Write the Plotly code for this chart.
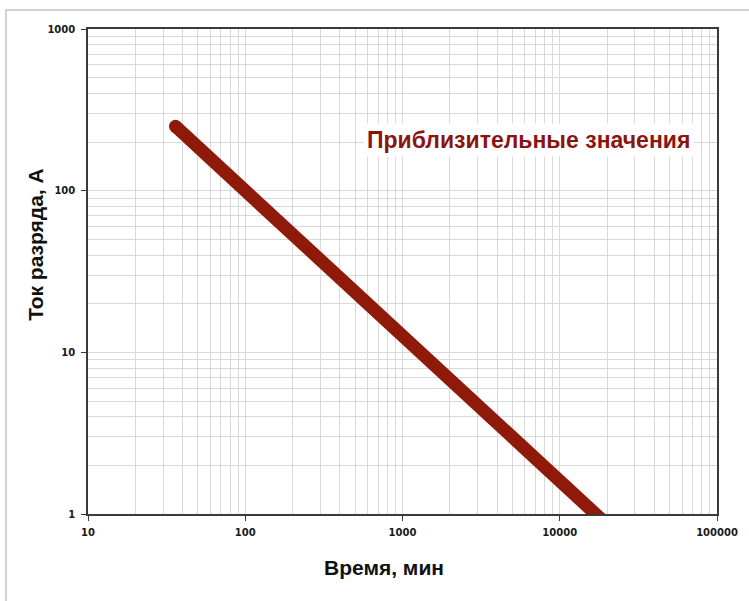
import plotly.graph_objects as go

# Data (log-log)
time_min = [36, 100, 1000, 10000, 20000]
current_a = [250, 100, 12.6, 1.6, 0.86]

x_major = [10, 100, 1000, 10000, 100000]
x_labels = ["10", "100", "1000", "10000", "100000"]
y_major = [1, 10, 100, 1000]
y_labels = ["1", "10", "100", "1000"]

x_minor = [m * 10 ** e for e in range(1, 5) for m in range(2, 10)]
y_minor = [m * 10 ** e for e in range(0, 3) for m in range(2, 10)]

line_color = "#901a0a"
grid_color = "#d9d9d9"
axis_color = "#3a3a3a"
tick_font = dict(family="DejaVu Sans", size=10, color="#1a1a1a", weight="bold")

fig = go.Figure()
fig.add_trace(go.Scatter(
    x=time_min, y=current_a, mode="lines",
    line=dict(color=line_color, width=13),
    showlegend=False, hoverinfo="skip",
))
fig.add_trace(go.Scatter(
    x=time_min[:1], y=current_a[:1], mode="markers",
    marker=dict(color=line_color, size=13),
    showlegend=False, hoverinfo="skip",
))

fig.update_xaxes(
    type="log", range=[1, 5],
    tickvals=x_major, ticktext=x_labels, tickfont=tick_font,
    ticks="outside", ticklen=5, tickcolor=axis_color, ticklabelstandoff=3,
    showgrid=True, gridcolor=grid_color, gridwidth=1,
    minor=dict(tickvals=x_minor, showgrid=True, gridcolor=grid_color, gridwidth=1, ticks=""),
    showline=True, linecolor=axis_color, linewidth=1.5, mirror=True,
    zeroline=False,
)
fig.update_yaxes(
    type="log", range=[0, 3],
    tickvals=y_major, ticktext=y_labels, tickfont=tick_font,
    ticks="outside", ticklen=5, tickcolor=axis_color, ticklabelstandoff=4,
    showgrid=True, gridcolor=grid_color, gridwidth=1,
    minor=dict(tickvals=y_minor, showgrid=True, gridcolor=grid_color, gridwidth=1, ticks=""),
    showline=True, linecolor=axis_color, linewidth=1.5, mirror=True,
    zeroline=False,
)

fig.add_annotation(
    text="Приблизительные значения", xref="paper", yref="paper",
    x=0.7, y=0.772, xanchor="center", yanchor="middle", showarrow=False,
    font=dict(family="Liberation Sans", size=23, color="#8a1410", weight="bold"),
    bgcolor="white", borderpad=3,
)
fig.add_annotation(
    text="Время, мин", xref="paper", yref="paper",
    x=0.47, y=-0.11, xanchor="center", yanchor="middle", showarrow=False,
    font=dict(family="Liberation Sans", size=21, color="#111111", weight="bold"),
)
fig.add_annotation(
    text="Ток разряда, А", xref="paper", yref="paper",
    x=-0.0826, y=0.555, xanchor="center", yanchor="middle", showarrow=False, textangle=-90,
    font=dict(family="Liberation Sans", size=21, color="#111111", weight="bold"),
)

fig.add_shape(
    type="rect", xref="paper", yref="paper",
    x0=-0.1304, y0=-0.5, x1=1.3, y1=1.0392,
    line=dict(color="#c4c4c4", width=1.5), fillcolor="rgba(0,0,0,0)", layer="below",
)

fig.update_layout(
    width=749, height=601,
    margin=dict(l=88, r=32, t=29, b=87),
    paper_bgcolor="white", plot_bgcolor="white",
    showlegend=False,
)

fig.write_html(
    "out.html",
    config={"displayModeBar": False},
    post_script="document.body.style.margin='0';document.body.style.overflow='hidden';",
)
